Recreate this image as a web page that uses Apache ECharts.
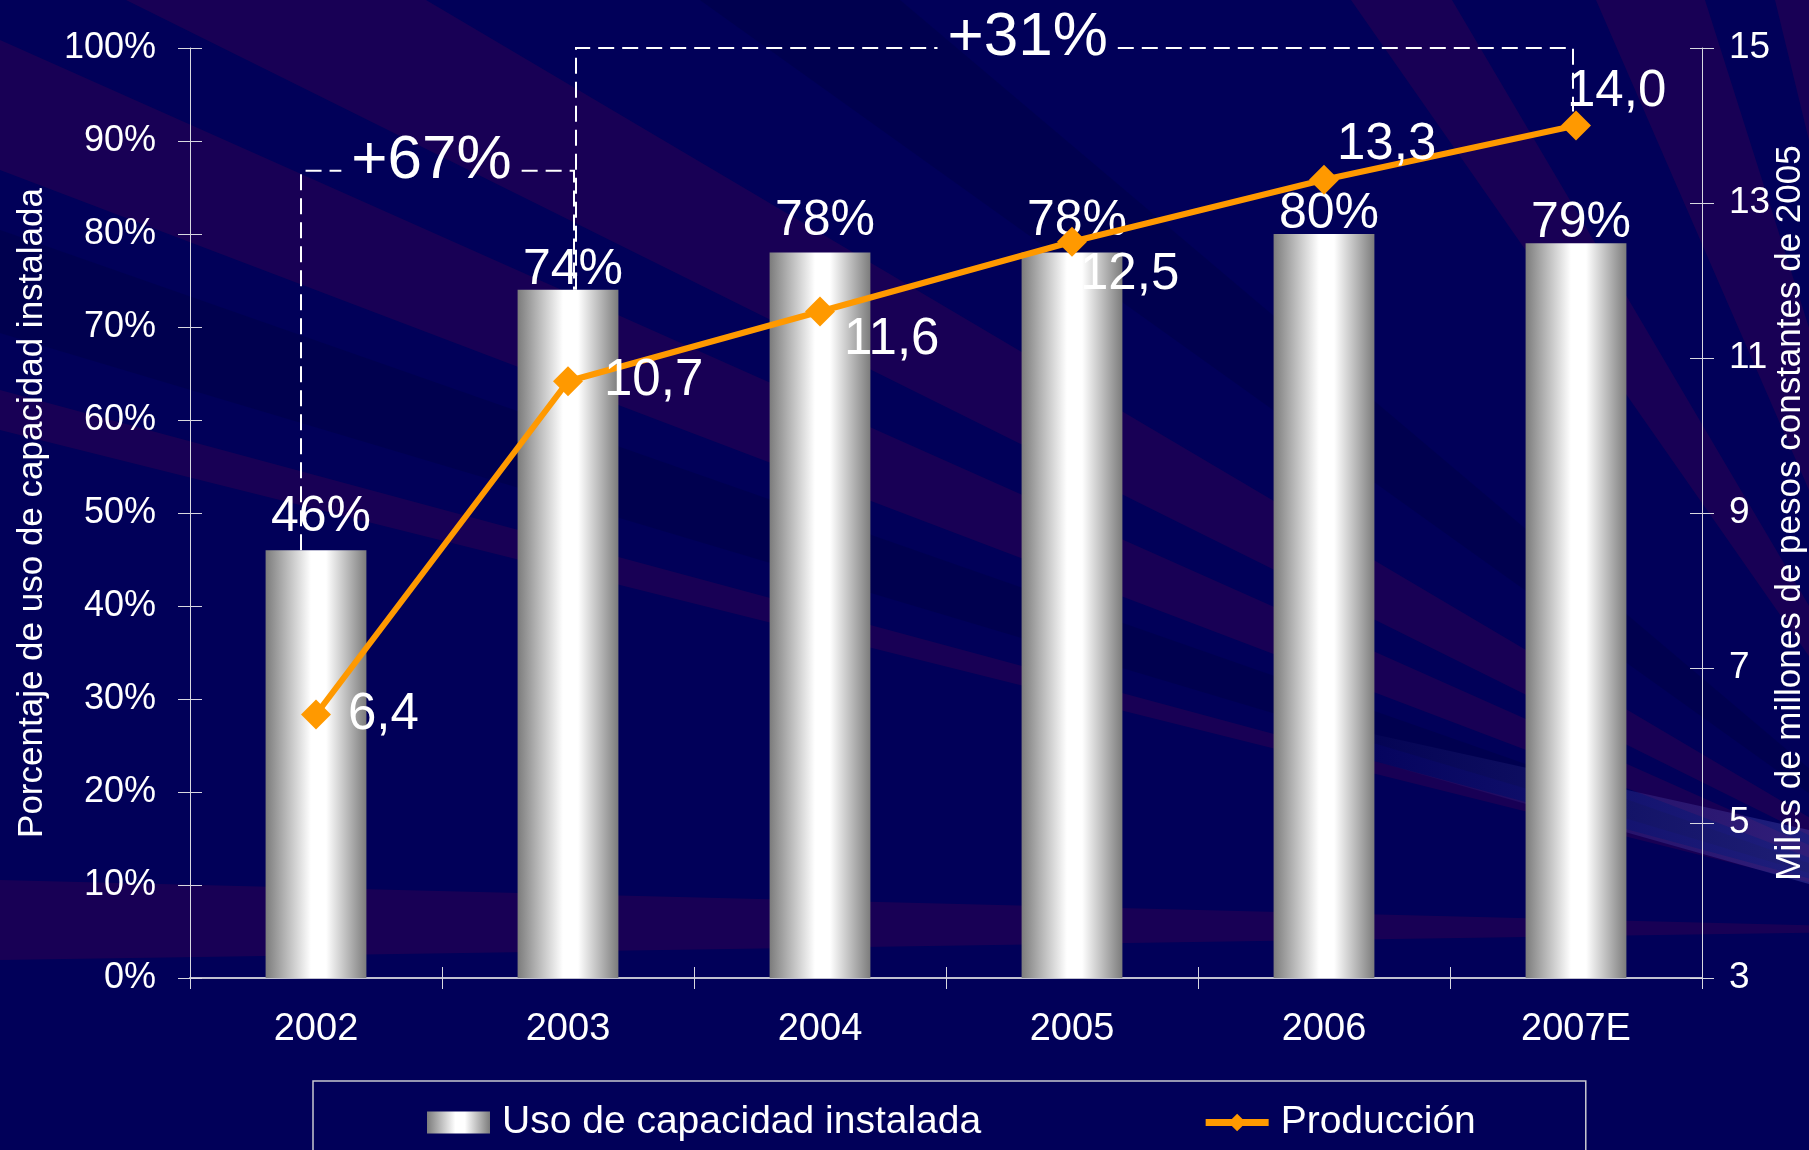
<!DOCTYPE html>
<html><head><meta charset="utf-8">
<script src="https://cdn.jsdelivr.net/npm/echarts@6/dist/echarts.min.js"></script>
<style>html,body{margin:0;padding:0;background:#010059;}#c{width:1809px;height:1150px;}</style>
</head><body><div id="c"></div>
<script>
// ---------------- data ----------------
const categories = ['2002', '2003', '2004', '2005', '2006', '2007E'];
const capacityUse = [46, 74, 78, 78, 80, 79];          // %
const production = [6.4, 10.7, 11.6, 12.5, 13.3, 14.0]; // miles de millones
const pctTicks = [0, 10, 20, 30, 40, 50, 60, 70, 80, 90, 100];
const prodTicks = [3, 5, 7, 9, 11, 13, 15];
const seriesNames = ['Uso de capacidad instalada', 'Producción'];
const leftAxisName = 'Porcentaje de uso de capacidad instalada';
const rightAxisName = 'Miles de millones de pesos constantes de 2005';
const growthLabels = ['+67%', '+31%'];
const growthFrom = [0, 1];   // category index
const growthTo = [1, 5];
const growthLevel = [86.8, 100]; // % level of the bracket

// ---------------- style ----------------
const FONT = '"Liberation Sans", Arial, sans-serif';
const prodLabelOffsets = [[17, 0], [21, 0], [9, 28], [-7, 33], [-2, -35], [-24, -34]];
const barLabelShift = [0, 13, 2, 2, 13, 13];
const fmtComma = v => v.toFixed(1).replace('.', ',');

const chart = echarts.init(document.getElementById('c'), null, {renderer: 'canvas'});

const barGradient = new echarts.graphic.LinearGradient(0, 0, 1, 0, [
  {offset: 0, color: '#7c7c7c'},
  {offset: 0.45, color: '#ffffff'},
  {offset: 0.6, color: '#ffffff'},
  {offset: 1, color: '#7c7c7c'}
]);

// background rays (decoration)
const F = [2000, 930];
const purpleBands = [
  [[126, 0], [426, 0]],
  [[0, 40], [0, 170]],
  [[0, 880], [0, 960]],
  [[1351, 0], [1452, 0]],
  [[1596, 0], [1705, 0]],
  [[1775, 0], [1840, 0]],
  [[0, 390], [0, 430]]
];
const darkBands = [[[0, 230], [0, 333]], [[700, 0], [900, 0]]];
const bgElems = [];
purpleBands.forEach((b, i) => bgElems.push({
  type: 'polygon', id: 'pb' + i, silent: true, z: -100,
  shape: {points: [F, b[0], b[1]]}, style: {fill: 'rgba(30,0,84,0.8)'}
}));
darkBands.forEach((b, i) => bgElems.push({
  type: 'polygon', id: 'db' + i, silent: true, z: -101,
  shape: {points: [F, b[0], b[1]]}, style: {fill: 'rgba(0,0,60,0.35)'}
}));
bgElems.push({
  type: 'polygon', id: 'light', silent: true, z: -99,
  shape: {points: [[1300, 718], [1809, 830], [1809, 884], [1300, 740]]},
  style: {fill: new echarts.graphic.LinearGradient(1300, 0, 1809, 0, [
    {offset: 0, color: 'rgba(120,120,230,0)'},
    {offset: 1, color: 'rgba(120,120,230,0.25)'}
  ], true)}
});

const axisLineColor = '#d8d8e0';
const gridPos = {left: 190, right: 107, top: 48, bottom: 172, containLabel: false, outerBoundsMode: 'none'};

const option = {
  backgroundColor: '#010059',
  animation: false,
  textStyle: {fontFamily: FONT},
  graphic: {elements: bgElems},
  grid: [Object.assign({}, gridPos), Object.assign({}, gridPos)],
  legend: {
    left: 313, top: 1081,
    padding: [22, 110, 40, 114],
    borderColor: '#c8c8d0', borderWidth: 1.5,
    itemWidth: 63, itemHeight: 22, itemGap: 221,
    textStyle: {color: '#ffffff', fontSize: 39, fontFamily: FONT, padding: [0, 0, 0, 7]},
    lineStyle: {width: 7},
    data: [{name: seriesNames[0], icon: 'rect'}, {name: seriesNames[1]}]
  },
  xAxis: [{
    type: 'category', gridIndex: 0, data: categories, position: 'bottom',
    axisLine: {lineStyle: {color: '#c0c0d0', width: 2}},
    axisTick: {show: true, length: 11, lineStyle: {color: axisLineColor, width: 1}},
    axisLabel: {color: '#ffffff', fontSize: 38, margin: 33, fontFamily: FONT},
    splitLine: {show: false}
  }, {
    type: 'category', gridIndex: 1, data: categories, position: 'bottom',
    axisLine: {show: false},
    axisTick: {show: true, inside: true, length: 11, lineStyle: {color: axisLineColor, width: 1}},
    axisLabel: {show: false}, splitLine: {show: false}
  }],
  yAxis: [{
    type: 'value', gridIndex: 0, position: 'left',
    min: pctTicks[0], max: pctTicks[pctTicks.length - 1], interval: pctTicks[1] - pctTicks[0],
    axisLine: {show: true, lineStyle: {color: axisLineColor, width: 1}},
    axisTick: {show: true, length: 12, lineStyle: {color: axisLineColor}},
    axisLabel: {color: '#ffffff', fontSize: 36, margin: 34, formatter: '{value}%', fontFamily: FONT},
    splitLine: {show: false},
    name: leftAxisName, nameLocation: 'middle', nameRotate: 90, nameGap: 140, nameMoveOverlap: false,
    nameTextStyle: {color: '#ffffff', fontSize: 35, fontFamily: FONT}
  }, {
    type: 'value', gridIndex: 0, position: 'right',
    min: prodTicks[0], max: prodTicks[prodTicks.length - 1], interval: prodTicks[1] - prodTicks[0],
    axisLine: {show: true, lineStyle: {color: axisLineColor, width: 1}},
    axisTick: {show: true, length: 12, lineStyle: {color: axisLineColor}},
    axisLabel: {color: '#ffffff', fontSize: 37, margin: 27, fontFamily: FONT},
    splitLine: {show: false},
    name: rightAxisName, nameLocation: 'middle', nameRotate: 90, nameGap: 71, nameMoveOverlap: false,
    nameTextStyle: {color: '#ffffff', fontSize: 35, fontFamily: FONT}
  }, {
    type: 'value', gridIndex: 1, position: 'left',
    min: pctTicks[0], max: pctTicks[pctTicks.length - 1], interval: pctTicks[1] - pctTicks[0],
    axisLine: {show: false}, axisLabel: {show: false}, splitLine: {show: false},
    axisTick: {show: true, inside: true, length: 12, lineStyle: {color: axisLineColor}}
  }, {
    type: 'value', gridIndex: 1, position: 'right',
    min: prodTicks[0], max: prodTicks[prodTicks.length - 1], interval: prodTicks[1] - prodTicks[0],
    axisLine: {show: false}, axisLabel: {show: false}, splitLine: {show: false},
    axisTick: {show: true, inside: true, length: 12, lineStyle: {color: axisLineColor}}
  }],
  series: [{
    name: seriesNames[0], type: 'bar', xAxisIndex: 0, yAxisIndex: 0,
    data: capacityUse.map((v, i) => ({value: v, label: {offset: [5, barLabelShift[i]]}})),
    barWidth: '40%',
    itemStyle: {color: barGradient},
    label: {show: true, position: 'top', distance: 8,
      color: '#ffffff', fontSize: 50, fontFamily: FONT, formatter: '{c}%'}
  }, {
    name: seriesNames[1], type: 'line', xAxisIndex: 0, yAxisIndex: 1,
    data: production.map((v, i) => ({value: v, label: {offset: prodLabelOffsets[i]}})),
    symbol: 'diamond', symbolSize: 30,
    lineStyle: {color: '#FF9900', width: 6},
    itemStyle: {color: '#FF9900'},
    label: {show: true, position: 'right', distance: 0, align: 'left', verticalAlign: 'middle',
      color: '#ffffff', fontSize: 51, fontFamily: FONT,
      formatter: p => fmtComma(p.value)},
    z: 3
  }]
};
chart.setOption(option);

// ---------- growth brackets (dashed) ----------
const measureCtx = document.createElement('canvas').getContext('2d');
measureCtx.font = '62px "Liberation Sans"';
const toPx = (ci, v) => chart.convertToPixel({xAxisIndex: 0, yAxisIndex: 0}, [ci, v]);
const toPxR = (ci, v) => chart.convertToPixel({xAxisIndex: 0, yAxisIndex: 1}, [ci, v]);
const dashStyle = {stroke: '#ffffff', lineWidth: 2, lineDash: [16, 8], fill: null};
const ann = [];
const leftShift = [-15, 8], rightShift = [6, -3], textFrac = [0.478, 0.453];
growthLabels.forEach((lab, k) => {
  const a = growthFrom[k], b = growthTo[k];
  const xL = toPx(a, 0)[0] + leftShift[k];
  const xR = toPx(b, 0)[0] + rightShift[k];
  const yLev = toPx(a, growthLevel[k])[1];
  const yLbot = toPx(a, capacityUse[a])[1];
  const yRbot = (k === 0) ? toPx(b, capacityUse[b])[1] : toPxR(b, production[b])[1] - 14;
  const w = measureCtx.measureText(lab).width;
  const cx = xL + (xR - xL) * textFrac[k];
  const gap = 10;
  ann.push({type: 'polyline', id: 'bl' + k, silent: true, z: 1,
    shape: {points: [[xL, yLbot], [xL, yLev], [cx - w / 2 - gap, yLev]]}, style: dashStyle});
  ann.push({type: 'polyline', id: 'br' + k, silent: true, z: 1,
    shape: {points: [[cx + w / 2 + gap, yLev], [xR, yLev], [xR, yRbot]]}, style: dashStyle});
  ann.push({type: 'text', id: 'bt' + k, silent: true, z: 1,
    x: cx, y: yLev - 10,
    style: {text: lab, fill: '#ffffff', font: '62px ' + FONT, align: 'center', verticalAlign: 'middle'}});
});
chart.setOption({graphic: {elements: ann}});
</script></body></html>
